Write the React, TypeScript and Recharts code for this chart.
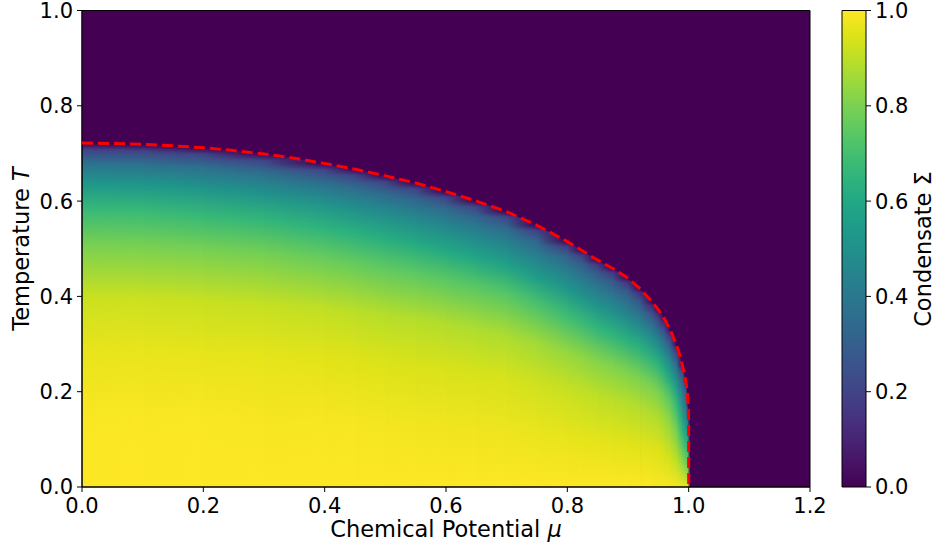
import { ComposedChart, XAxis, YAxis, Line, Area, ReferenceArea } from 'recharts'

const FONT = 'DejaVu Sans'
const PURPLE = '#440154'

// phase boundary T_c(mu), dashed red curve
const boundaryMu = [0, 0.05, 0.1, 0.15, 0.2, 0.25, 0.3, 0.35, 0.4, 0.45, 0.5, 0.55, 0.6, 0.65, 0.7, 0.75, 0.8, 0.85, 0.88, 0.9, 0.92, 0.94, 0.95, 0.96, 0.97, 0.98, 0.985, 0.99, 0.995, 0.998, 0.9995, 1.0, 1.0]
const boundaryT = [0.722, 0.721, 0.719, 0.716, 0.712, 0.706, 0.699, 0.69, 0.679, 0.667, 0.653, 0.638, 0.62, 0.6, 0.578, 0.549, 0.515, 0.476, 0.455, 0.438, 0.416, 0.388, 0.372, 0.353, 0.329, 0.298, 0.278, 0.254, 0.225, 0.195, 0.16, 0.12, 0]

// condensate columns: value of sigma at T = frac * Tc for each mu column
const columnMu = [0, 0.1, 0.2, 0.3, 0.4, 0.45, 0.5, 0.55, 0.6, 0.65, 0.7, 0.75, 0.8, 0.825, 0.85, 0.875, 0.9, 0.92, 0.94, 0.95, 0.96, 0.97, 0.98, 0.99, 0.995, 0.999, 1.0]
const columnTc = [0.722, 0.719, 0.712, 0.699, 0.679, 0.667, 0.653, 0.638, 0.62, 0.6, 0.578, 0.549, 0.515, 0.496, 0.476, 0.459, 0.438, 0.416, 0.388, 0.372, 0.353, 0.329, 0.298, 0.254, 0.225, 0.17, 0]
const fracT = [0, 0.2, 0.4, 0.55, 0.7, 0.8, 0.88, 0.94, 0.98, 1]
const sigmaByColumn = [
  [1.0, 0.995, 0.965, 0.92, 0.8, 0.68, 0.53, 0.38, 0.2, 0],
  [1.0, 0.995, 0.965, 0.92, 0.8, 0.68, 0.53, 0.38, 0.2, 0],
  [1.0, 0.995, 0.962, 0.915, 0.795, 0.67, 0.52, 0.37, 0.2, 0],
  [1.0, 0.99, 0.96, 0.91, 0.79, 0.66, 0.51, 0.37, 0.2, 0],
  [1.0, 0.99, 0.955, 0.905, 0.775, 0.645, 0.5, 0.36, 0.2, 0],
  [1.0, 0.988, 0.95, 0.898, 0.765, 0.632, 0.49, 0.355, 0.2, 0],
  [1.0, 0.985, 0.945, 0.89, 0.755, 0.62, 0.48, 0.35, 0.2, 0],
  [1.0, 0.982, 0.942, 0.888, 0.75, 0.61, 0.472, 0.348, 0.2, 0],
  [1.0, 0.98, 0.94, 0.885, 0.745, 0.6, 0.465, 0.345, 0.2, 0],
  [1.0, 0.978, 0.938, 0.88, 0.74, 0.59, 0.458, 0.342, 0.2, 0],
  [1.0, 0.975, 0.935, 0.875, 0.735, 0.58, 0.45, 0.34, 0.2, 0],
  [1.0, 0.97, 0.925, 0.86, 0.71, 0.555, 0.435, 0.325, 0.185, 0],
  [1.0, 0.965, 0.915, 0.84, 0.68, 0.53, 0.42, 0.31, 0.17, 0],
  [1.0, 0.962, 0.908, 0.83, 0.668, 0.518, 0.408, 0.3, 0.165, 0],
  [1.0, 0.96, 0.9, 0.82, 0.655, 0.505, 0.395, 0.29, 0.16, 0],
  [1.0, 0.958, 0.895, 0.812, 0.645, 0.495, 0.382, 0.278, 0.15, 0],
  [1.0, 0.955, 0.89, 0.805, 0.635, 0.485, 0.37, 0.265, 0.14, 0],
  [1.0, 0.955, 0.885, 0.8, 0.638, 0.488, 0.362, 0.248, 0.125, 0],
  [0.997, 0.952, 0.88, 0.795, 0.635, 0.485, 0.35, 0.225, 0.11, 0],
  [0.995, 0.95, 0.875, 0.79, 0.63, 0.48, 0.34, 0.21, 0.1, 0],
  [0.992, 0.935, 0.855, 0.765, 0.605, 0.465, 0.33, 0.205, 0.1, 0],
  [0.99, 0.92, 0.83, 0.74, 0.58, 0.45, 0.32, 0.2, 0.1, 0],
  [0.985, 0.89, 0.78, 0.68, 0.54, 0.42, 0.3, 0.19, 0.09, 0],
  [0.98, 0.83, 0.68, 0.57, 0.45, 0.38, 0.3, 0.2, 0.1, 0],
  [0.975, 0.8, 0.66, 0.55, 0.44, 0.37, 0.29, 0.19, 0.09, 0],
  [0.97, 0.8, 0.68, 0.58, 0.47, 0.38, 0.3, 0.2, 0.1, 0],
  [0, 0, 0, 0, 0, 0, 0, 0, 0, 0],
]

const muTicks = [0, 0.2, 0.4, 0.6, 0.8, 1.0, 1.2]
const tTicks = [0, 0.2, 0.4, 0.6, 0.8, 1.0]
const cbarTicks = [0, 0.2, 0.4, 0.6, 0.8, 1.0]

// viridis colormap sampled every 0.05
const viridisAnchors = [
  '#440154', '#471365', '#482475', '#463480', '#414487', '#3b528b', '#355f8d',
  '#2f6c8e', '#2a788e', '#25848e', '#21918c', '#1e9c89', '#22a884', '#2fb47c',
  '#44bf70', '#5ec962', '#7ad151', '#9bd93c', '#bddf26', '#dfe318', '#fde725',
]

const hexToRgb = (h: string) => [1, 3, 5].map(i => parseInt(h.slice(i, i + 2), 16))

const viridis = (v: number) => {
  const t = Math.min(1, Math.max(0, v)) * (viridisAnchors.length - 1)
  const i = Math.min(viridisAnchors.length - 2, Math.floor(t))
  const f = t - i
  const a = hexToRgb(viridisAnchors[i])
  const b = hexToRgb(viridisAnchors[i + 1])
  const c = a.map((x, k) => Math.round(x + (b[k] - x) * f))
  return `rgb(${c[0]},${c[1]},${c[2]})`
}

const fmt = (v: number) => v.toFixed(1)

const boundaryData = boundaryMu.map((mu, i) => ({ mu, T: boundaryT[i] }))
const cbarData = cbarTicks.map(v => ({ x: 0.5, v }))

// each strip blends its left column into its right column
const Strip = (props: any) => {
  const { x, y, width, height, index } = props
  return (
    <g>
      <rect x={x} y={y} width={width + 0.6} height={height} fill={`url(#sigma-col-${index})`} />
      <rect x={x} y={y} width={width + 0.6} height={height} fill={`url(#sigma-col-${index + 1})`} mask="url(#ramp)" />
    </g>
  )
}

const tickStyle = { fill: '#000', fontSize: 21, fontFamily: FONT }
const chartMargin = { top: 10.5, right: 127, bottom: 0, left: 10 }
const layer = { position: 'absolute' as const, left: 0, top: 0 }

export default function App() {
  return (
    <div style={{ position: 'absolute', left: 0, top: 0, width: 937, height: 550, background: '#fff', fontFamily: FONT }}>
      <svg width={0} height={0} style={{ position: 'absolute' }}>
        <defs>
          {columnMu.map((_, i) => (
            <linearGradient key={i} id={`sigma-col-${i}`} x1="0" y1="1" x2="0" y2="0">
              {fracT.map((f, j) => (
                <stop key={j} offset={f * columnTc[i]} stopColor={viridis(sigmaByColumn[i][j])} />
              ))}
            </linearGradient>
          ))}
          <linearGradient id="ramp-grad" x1="0" y1="0" x2="1" y2="0">
            <stop offset="0" stopColor="#000" />
            <stop offset="1" stopColor="#fff" />
          </linearGradient>
          <mask id="ramp" maskContentUnits="objectBoundingBox">
            <rect x="0" y="0" width="1" height="1" fill="url(#ramp-grad)" />
          </mask>
          <linearGradient id="cbar-grad" x1="0" y1="1" x2="0" y2="0">
            {viridisAnchors.map((c, i) => (
              <stop key={i} offset={i / (viridisAnchors.length - 1)} stopColor={c} />
            ))}
          </linearGradient>
        </defs>
      </svg>

      {/* axes and condensate map */}
      <div style={layer}>
        <ComposedChart width={937} height={550} data={boundaryData} margin={chartMargin}>
          <XAxis
            type="number"
            dataKey="mu"
            domain={[0, 1.2]}
            ticks={muTicks}
            interval={0}
            allowDataOverflow
            tickFormatter={fmt}
            height={63}
            tickSize={5}
            tickMargin={6}
            stroke="#000"
            tick={tickStyle}
          />
          <YAxis
            type="number"
            domain={[0, 1]}
            ticks={tTicks}
            interval={0}
            allowDataOverflow
            tickFormatter={fmt}
            width={72}
            tickSize={5}
            tickMargin={4}
            stroke="#000"
            tick={tickStyle}
          />
          <ReferenceArea x1={0} x2={1.2} y1={0} y2={1} fill={PURPLE} fillOpacity={1} stroke="none" />
          {columnMu.slice(0, -1).map((mu, i) => (
            <ReferenceArea
              key={`strip-${i}`}
              x1={mu}
              x2={columnMu[i + 1]}
              y1={0}
              y2={1}
              shape={(p: any) => <Strip {...p} index={i} />}
            />
          ))}
        </ComposedChart>
      </div>

      {/* normal phase above the boundary, boundary line and frame */}
      <div style={layer}>
        <ComposedChart width={937} height={550} data={boundaryData} margin={chartMargin}>
          <XAxis type="number" dataKey="mu" domain={[0, 1.2]} allowDataOverflow height={63} tick={false} tickLine={false} axisLine={false} />
          <YAxis type="number" domain={[0, 1]} allowDataOverflow width={72} tick={false} tickLine={false} axisLine={false} />
          <Area
            type="linear"
            dataKey="T"
            baseValue={1}
            fill={PURPLE}
            fillOpacity={1}
            stroke="none"
            dot={false}
            activeDot={false}
            isAnimationActive={false}
          />
          <Line
            type="linear"
            dataKey="T"
            stroke="#ff0000"
            strokeWidth={3}
            strokeDasharray="11 5"
            dot={false}
            activeDot={false}
            isAnimationActive={false}
          />
          <ReferenceArea x1={0} x2={1.2} y1={0} y2={1} fill="none" stroke="#000" strokeWidth={1} />
        </ComposedChart>
      </div>

      <div style={{ position: 'absolute', left: 832, top: 0 }}>
        <ComposedChart width={105} height={550} data={cbarData} margin={{ top: 10.5, right: 0, bottom: 63, left: 10 }}>
          <XAxis type="number" dataKey="x" domain={[0, 1]} hide />
          <YAxis
            orientation="right"
            type="number"
            dataKey="v"
            domain={[0, 1]}
            ticks={cbarTicks}
            interval={0}
            tickFormatter={fmt}
            width={71}
            tickSize={5}
            tickMargin={4}
            axisLine={false}
            stroke="#000"
            tick={tickStyle}
          />
          <ReferenceArea x1={0} x2={1} y1={0} y2={1} fill="url(#cbar-grad)" fillOpacity={1} stroke="#000" strokeWidth={1} />
        </ComposedChart>
      </div>

      <svg width={937} height={550} style={{ ...layer, pointerEvents: 'none' }}>
        <text x={446} y={537} textAnchor="middle" fontSize={22.5} fontFamily={FONT} fill="#000">
          Chemical Potential <tspan fontStyle="italic">μ</tspan>
        </text>
        <text x={29} y={249} textAnchor="middle" fontSize={22.5} fontFamily={FONT} fill="#000" transform="rotate(-90 29 249)">
          Temperature <tspan fontStyle="italic">T</tspan>
        </text>
        <text x={931} y={249} textAnchor="middle" fontSize={22.5} fontFamily={FONT} fill="#000" transform="rotate(-90 931 249)">
          Condensate Σ
        </text>
      </svg>
    </div>
  )
}
